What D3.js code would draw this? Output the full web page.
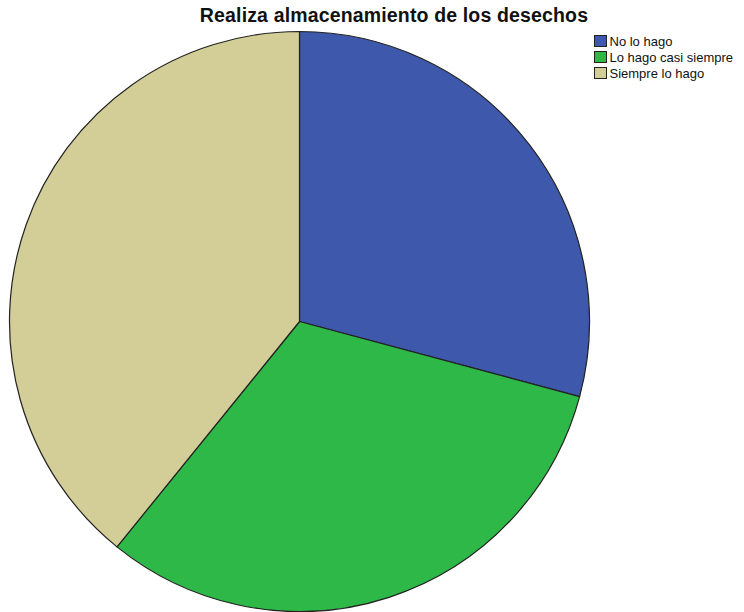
<!DOCTYPE html>
<html>
<head>
<meta charset="utf-8">
<script src="https://cdn.jsdelivr.net/npm/d3@7"></script>
<style>
  html, body { margin: 0; padding: 0; background: #fff; }
  svg { display: block; }
</style>
</head>
<body>
<svg id="chart" width="744" height="612"></svg>
<script>
const title = "Realiza almacenamiento de los desechos";
const categories = ["No lo hago", "Lo hago casi siempre", "Siempre lo hago"];
const counts = [35, 38, 47];
const colors = ["#3E58AC", "#2EB848", "#D3CE97"];

const svg = d3.select("#chart");
const cx = 299.5, cy = 321.5, r = 290;

svg.append("text")
  .attr("x", 394).attr("y", 22)
  .attr("text-anchor", "middle")
  .attr("font-family", "Arial, 'Liberation Sans', sans-serif")
  .attr("font-weight", "bold")
  .attr("font-size", 19.5)
  .attr("letter-spacing", 0.15)
  .attr("fill", "#111")
  .text(title);

const data = categories.map((c, i) => ({ cat: c, value: counts[i], color: colors[i] }));
const pie = d3.pie().value(d => d.value).sort(null);
const arc = d3.arc().innerRadius(0).outerRadius(r);

svg.append("g")
  .attr("transform", `translate(${cx},${cy})`)
  .selectAll("path")
  .data(pie(data))
  .join("path")
  .attr("d", arc)
  .attr("fill", d => d.data.color)
  .attr("stroke", "#222")
  .attr("stroke-width", 1.2)
  .attr("stroke-linejoin", "round");

const legend = svg.append("g").attr("transform", "translate(594,35)");
const rows = legend.selectAll("g")
  .data(data)
  .join("g")
  .attr("transform", (d, i) => `translate(0,${i * 16})`);
rows.append("rect")
  .attr("x", 0.5).attr("y", 0.5)
  .attr("width", 12).attr("height", 11)
  .attr("fill", d => d.color)
  .attr("stroke", "#222").attr("stroke-width", 1);
rows.append("text")
  .attr("x", 15.5).attr("y", 11)
  .attr("font-family", "Arial, 'Liberation Sans', sans-serif")
  .attr("font-size", 13)
  .attr("fill", "#111")
  .text(d => d.cat);
</script>
</body>
</html>
